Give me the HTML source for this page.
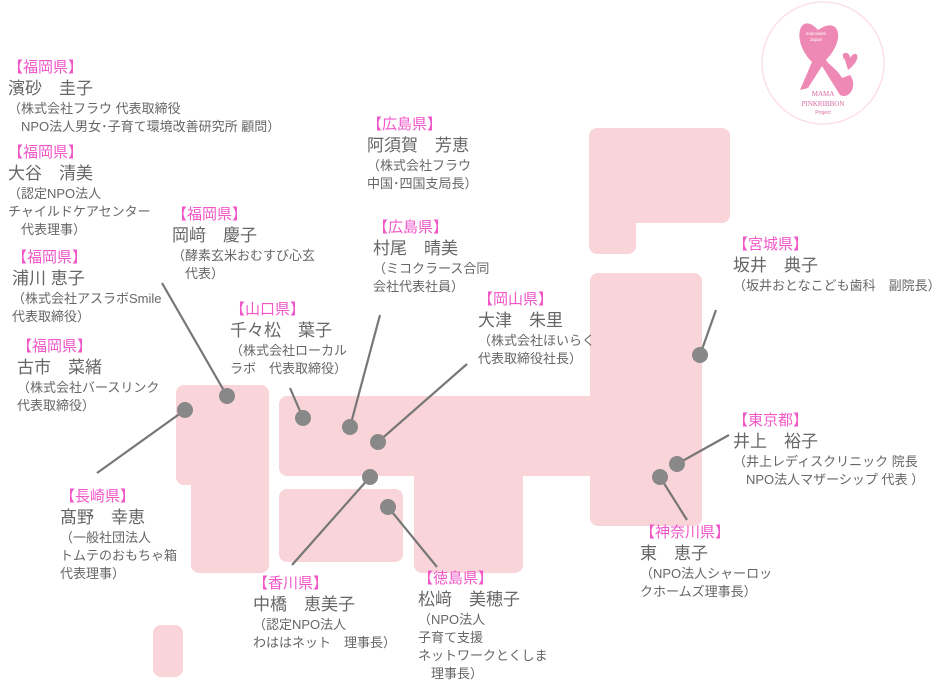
<!DOCTYPE html>
<html><head><meta charset="utf-8"><style>
body{margin:0;width:940px;height:691px;background:#fff;position:relative;overflow:hidden;font-family:"Liberation Sans","Noto Sans CJK JP",sans-serif;color:#666}
.m{position:absolute;background:#f9d4d8;border-radius:8px}
.b{position:absolute;white-space:nowrap}
.b .l{color:#f257c8;font-size:15px;line-height:20px;display:block}
.b .n{font-size:17px;line-height:22px;display:block}
.b .s{font-size:13px;line-height:18px;display:block}
svg{position:absolute;left:0;top:0}
</style></head><body>
<div class="m" style="left:589px;top:128px;width:141px;height:95px"></div>
<div class="m" style="left:589px;top:200px;width:47px;height:54px"></div>
<div class="m" style="left:590px;top:273px;width:112px;height:253px"></div>
<div class="m" style="left:279px;top:396px;width:423px;height:80px"></div>
<div class="m" style="left:414px;top:420px;width:109px;height:153px"></div>
<div class="m" style="left:176px;top:385px;width:93px;height:100px"></div>
<div class="m" style="left:191px;top:420px;width:78px;height:153px"></div>
<div class="m" style="left:279px;top:489px;width:124px;height:73px"></div>
<div class="m" style="left:153px;top:625px;width:30px;height:52px"></div>

<svg width="940" height="691">
<g stroke="#777" stroke-width="2.2">
<line x1="162" y1="283" x2="227" y2="396"/>
<line x1="290" y1="388" x2="303" y2="418"/>
<line x1="380" y1="315" x2="350" y2="427"/>
<line x1="467" y1="364" x2="378" y2="442"/>
<line x1="97" y1="473" x2="185" y2="410"/>
<line x1="292" y1="565" x2="370" y2="477"/>
<line x1="437" y1="567" x2="388" y2="507"/>
<line x1="716" y1="310" x2="700" y2="355"/>
<line x1="729" y1="435" x2="677" y2="464"/>
<line x1="687" y1="520" x2="660" y2="477"/>
</g>
<g fill="#888">
<circle cx="185" cy="410" r="8"/><circle cx="227" cy="396" r="8"/><circle cx="303" cy="418" r="8"/>
<circle cx="350" cy="427" r="8"/><circle cx="378" cy="442" r="8"/><circle cx="370" cy="477" r="8"/>
<circle cx="388" cy="507" r="8"/><circle cx="700" cy="355" r="8"/><circle cx="677" cy="464" r="8"/>
<circle cx="660" cy="477" r="8"/>
</g>
<circle cx="823" cy="63" r="61" fill="#fff" stroke="#fbe0ea" stroke-width="1.5"/>
<path d="M818 30 C800 10 790 40 812 62 L800 90 L808 88 L822 66 L840 95 C850 100 858 85 850 75 L842 78 C838 70 828 64 826 60 C846 40 840 15 818 30 Z" fill="#ee88b4"/>
<path d="M845 60 C838 52 850 50 850 58 C856 48 864 58 848 70 Z" fill="#ee88b4"/>
<text x="823" y="96" font-size="7" fill="#d86aa0" text-anchor="middle" font-family="Liberation Serif">MAMA</text>
<text x="823" y="106" font-size="7" fill="#d86aa0" text-anchor="middle" font-family="Liberation Serif">PINKRIBBON</text>
<text x="823" y="114" font-size="5" fill="#d86aa0" text-anchor="middle">Project</text>
<text x="816" y="35" font-size="4.5" fill="#fff" text-anchor="middle">mamisami</text>
<text x="816" y="41" font-size="4.5" fill="#fff" text-anchor="middle">Japan</text>
</svg>

<div class="b" style="left:8px;top:58px"><span class="l">【福岡県】</span><span class="n">濱砂　圭子</span><span class="s">（株式会社フラウ 代表取締役</span><span class="s">　NPO法人男女･子育て環境改善研究所 顧問）</span></div>
<div class="b" style="left:8px;top:143px"><span class="l">【福岡県】</span><span class="n">大谷　清美</span><span class="s">（認定NPO法人</span><span class="s">チャイルドケアセンター</span><span class="s">　代表理事）</span></div>
<div class="b" style="left:172px;top:205px"><span class="l">【福岡県】</span><span class="n">岡﨑　慶子</span><span class="s">（酵素玄米おむすび心玄</span><span class="s">　代表）</span></div>
<div class="b" style="left:12px;top:248px"><span class="l">【福岡県】</span><span class="n">浦川 恵子</span><span class="s">（株式会社アスラボSmile</span><span class="s">代表取締役）</span></div>
<div class="b" style="left:17px;top:337px"><span class="l">【福岡県】</span><span class="n">古市　菜緒</span><span class="s">（株式会社バースリンク</span><span class="s">代表取締役）</span></div>
<div class="b" style="left:367px;top:115px"><span class="l">【広島県】</span><span class="n">阿須賀　芳恵</span><span class="s">（株式会社フラウ</span><span class="s">中国･四国支局長）</span></div>
<div class="b" style="left:373px;top:218px"><span class="l">【広島県】</span><span class="n">村尾　晴美</span><span class="s">（ミコクラース合同</span><span class="s">会社代表社員）</span></div>
<div class="b" style="left:230px;top:300px"><span class="l">【山口県】</span><span class="n">千々松　葉子</span><span class="s">（株式会社ローカル</span><span class="s">ラボ　代表取締役）</span></div>
<div class="b" style="left:478px;top:290px"><span class="l">【岡山県】</span><span class="n">大津　朱里</span><span class="s">（株式会社ほいらく</span><span class="s">代表取締役社長）</span></div>
<div class="b" style="left:733px;top:235px"><span class="l">【宮城県】</span><span class="n">坂井　典子</span><span class="s">（坂井おとなこども歯科　副院長）</span></div>
<div class="b" style="left:733px;top:411px"><span class="l">【東京都】</span><span class="n">井上　裕子</span><span class="s">（井上レディスクリニック 院長</span><span class="s">　NPO法人マザーシップ 代表 ）</span></div>
<div class="b" style="left:640px;top:523px"><span class="l">【神奈川県】</span><span class="n">東　恵子</span><span class="s">（NPO法人シャーロッ</span><span class="s">クホームズ理事長）</span></div>
<div class="b" style="left:60px;top:487px"><span class="l">【長崎県】</span><span class="n">髙野　幸恵</span><span class="s">（一般社団法人</span><span class="s">トムテのおもちゃ箱</span><span class="s">代表理事）</span></div>
<div class="b" style="left:253px;top:574px"><span class="l">【香川県】</span><span class="n">中橋　恵美子</span><span class="s">（認定NPO法人</span><span class="s">わははネット　理事長）</span></div>
<div class="b" style="left:418px;top:569px"><span class="l">【徳島県】</span><span class="n">松﨑　美穂子</span><span class="s">（NPO法人</span><span class="s">子育て支援</span><span class="s">ネットワークとくしま</span><span class="s">　理事長）</span></div>
</body></html>
